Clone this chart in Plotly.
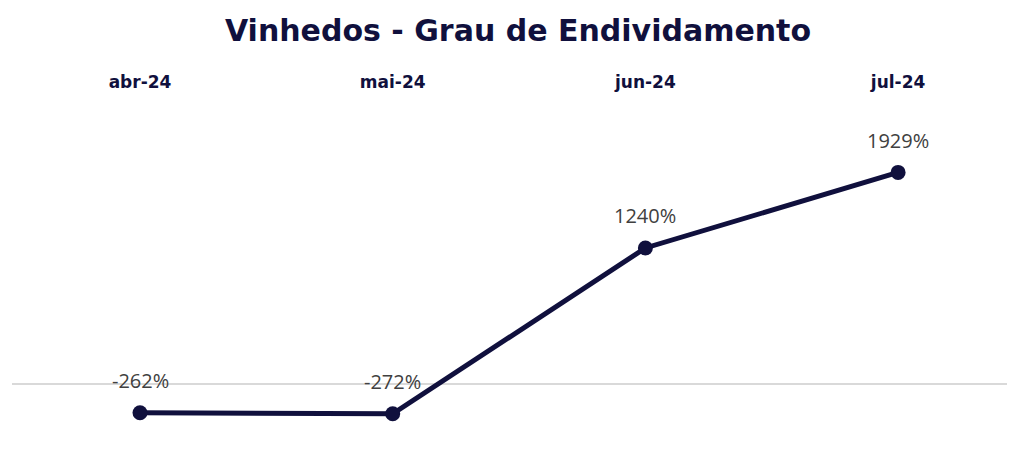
import plotly.graph_objects as go

categories = ["abr-24", "mai-24", "jun-24", "jul-24"]
values = [-262, -272, 1240, 1929]
labels = [f"{v}%" for v in values]

navy = "#10103d"

fig = go.Figure()
fig.add_trace(go.Scatter(
    x=categories, y=values, mode="lines+markers",
    line=dict(color=navy, width=5),
    marker=dict(color=navy, size=15),
    hoverinfo="skip",
))

for c, v, t in zip(categories, values, labels):
    fig.add_annotation(x=c, y=v, text=t, showarrow=False, yshift=32,
                       font=dict(family="Open Sans, Noto Sans, sans-serif", size=20, color="#404040"))

fig.update_layout(
    width=1020, height=452,
    margin=dict(l=4, r=21, t=92, b=18),
    paper_bgcolor="white", plot_bgcolor="white",
    showlegend=False,
    title=dict(text="<b>Vinhedos - Grau de Endividamento</b>", x=0.5, xanchor="center",
               y=0.951, yanchor="middle",
               font=dict(family="DejaVu Sans, sans-serif", size=30, color=navy)),
    xaxis=dict(side="top", type="category", range=[-0.5066, 3.431],
               showgrid=False, showline=False, zeroline=False, ticks="",
               ticklabelstandoff=8,
               tickfont=dict(family="DejaVu Sans, sans-serif", size=17, color=navy, weight="bold")),
    yaxis=dict(range=[-529, 2589], showgrid=False, showticklabels=False, ticks="",
               zeroline=True, zerolinecolor="#d9d9d9", zerolinewidth=1.5, showline=False),
)

fig.write_html("out.html")
